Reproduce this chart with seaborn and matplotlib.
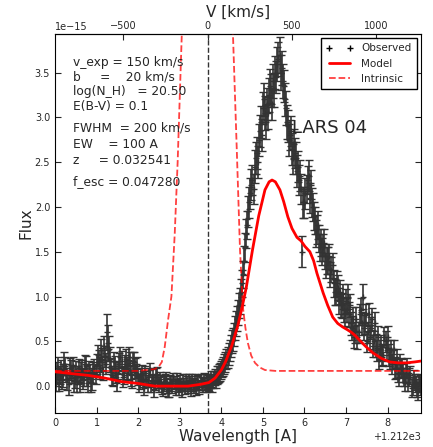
import numpy as np
import matplotlib
matplotlib.use("Agg")
import matplotlib.pyplot as plt
from matplotlib.lines import Line2D
from matplotlib.ticker import ScalarFormatter
import seaborn as sns

sns.set_style("ticks", rc={"xtick.direction": "in", "ytick.direction": "in",
                           "axes.edgecolor": "black", "axes.linewidth": 1.2})
plt.rcParams['font.family'] = ['DejaVu Sans']

# wavelength grid: offset from 1212 A, 0.05 A sampling (second set shifted by half a pixel)
wave0 = 1212.0
step = 0.05

# observed flux (1e-15 units), one block per angstrom
obs_flux = [
    0.10, 0.15, 0.05, 0.18, 0.12, 0.22, 0.08, 0.20, 0.14, 0.06, 0.17, 0.12, 0.05, 0.18, 0.10, 0.22, 0.03, 0.14, 0.08, 0.20,
    0.25, 0.28, 0.40, 0.18, 0.33, 0.60, 0.42, 0.20, 0.10, 0.22, 0.05, 0.25, 0.28, 0.12, 0.30, 0.18, 0.26, 0.08, 0.27, 0.15,
    0.10, 0.05, 0.15, -0.02, 0.08, 0.12, 0.00, 0.10, 0.04, 0.14, 0.02, 0.05, -0.03, 0.06, 0.00, -0.05, 0.03, 0.08, -0.02, 0.01,
    0.05, -0.04, 0.02, 0.06, -0.01, 0.03, 0.07, 0.00, -0.03, 0.04, 0.06, 0.01, 0.03, 0.05, 0.03, 0.08, 0.06, 0.10, 0.12, 0.15,
    0.18, 0.22, 0.27, 0.32, 0.40, 0.50, 0.58, 0.70, 0.82, 0.95, 1.15, 1.40, 1.70, 1.95, 2.15, 2.30, 2.45, 2.60, 2.75, 2.95,
    3.10, 3.05, 3.15, 3.25, 3.30, 3.40, 3.50, 3.60, 3.70, 3.55, 3.35, 3.10, 2.90, 2.80, 2.65, 2.70, 2.55, 2.45, 2.35, 1.50,
    2.05, 2.20, 2.35, 2.25, 2.00, 1.85, 1.75, 1.65, 1.60, 1.55, 1.45, 1.40, 1.45, 1.30, 1.15, 1.05, 1.10, 1.05, 0.90, 0.85,
    0.95, 1.00, 0.90, 0.65, 0.55, 0.75, 0.60, 0.85, 1.00, 0.70, 0.50, 0.80, 0.65, 0.45, 0.70, 0.40, 0.30, 0.45, 0.35, 0.50,
    0.55, 0.30, 0.25, 0.40, 0.20, 0.15, 0.25, 0.20, 0.10, 0.15, 0.05, 0.12, 0.00, 0.05, -0.02, 0.05, 0.00,
]
obs_flux_b = [
    0.05, 0.20, 0.12, 0.08, 0.25, 0.15, 0.02, 0.18, 0.22, 0.10, 0.05, 0.20, 0.15, 0.08, 0.25, 0.12, 0.18, 0.05, 0.15, 0.12,
    0.35, 0.20, 0.30, 0.45, 0.25, 0.48, 0.30, 0.12, 0.28, 0.15, 0.18, 0.32, 0.10, 0.25, 0.20, 0.33, 0.12, 0.28, 0.20, 0.22,
    0.02, 0.12, 0.08, 0.15, 0.03, 0.18, 0.06, -0.03, 0.12, 0.05, 0.08, -0.02, 0.03, 0.09, -0.04, 0.05, 0.00, 0.04, 0.07, -0.03,
    0.02, 0.06, -0.02, 0.03, 0.07, -0.03, 0.02, 0.05, 0.04, -0.01, 0.03, 0.07, 0.00, 0.04, 0.06, 0.02, 0.09, 0.07, 0.13, 0.16,
    0.20, 0.25, 0.30, 0.36, 0.45, 0.52, 0.65, 0.75, 0.90, 1.05, 1.25, 1.55, 1.80, 2.05, 2.25, 2.20, 2.55, 2.50, 2.85, 2.80,
    3.20, 2.95, 3.05, 3.35, 3.15, 3.30, 3.45, 3.65, 3.50, 3.40, 3.20, 2.95, 2.75, 2.85, 2.55, 2.60, 2.40, 2.30, 2.20, 2.05,
    2.15, 2.30, 2.10, 2.05, 1.90, 1.70, 1.80, 1.55, 1.50, 1.60, 1.35, 1.40, 1.25, 1.35, 1.05, 1.15, 0.95, 0.90, 1.00, 0.80,
    0.85, 0.80, 0.70, 0.75, 0.60, 0.55, 0.80, 0.70, 0.65, 0.80, 0.60, 0.55, 0.75, 0.50, 0.45, 0.55, 0.40, 0.35, 0.55, 0.40,
    0.35, 0.40, 0.30, 0.20, 0.30, 0.10, 0.20, 0.15, 0.05, 0.20, 0.10, -0.02, 0.08, 0.02, -0.05, 0.03,
]
obs_err = [
    0.10, 0.12, 0.10, 0.11, 0.13, 0.10, 0.12, 0.11, 0.10, 0.12, 0.11, 0.10, 0.12, 0.11, 0.10, 0.12, 0.10, 0.11, 0.12, 0.10,
    0.11, 0.12, 0.13, 0.11, 0.12, 0.20, 0.14, 0.11, 0.10, 0.12, 0.10, 0.12, 0.11, 0.10, 0.12, 0.11, 0.12, 0.10, 0.11, 0.10,
    0.09, 0.08, 0.09, 0.08, 0.09, 0.08, 0.07, 0.09, 0.08, 0.07, 0.08, 0.07, 0.08, 0.07, 0.08, 0.07, 0.08, 0.07, 0.08, 0.07,
    0.07, 0.08, 0.07, 0.08, 0.07, 0.08, 0.07, 0.08, 0.07, 0.08, 0.07, 0.08, 0.07, 0.08, 0.08, 0.09, 0.08, 0.09, 0.10, 0.10,
    0.10, 0.11, 0.11, 0.12, 0.12, 0.13, 0.13, 0.14, 0.14, 0.15, 0.15, 0.16, 0.16, 0.17, 0.17, 0.17, 0.18, 0.18, 0.18, 0.18,
    0.18, 0.19, 0.18, 0.19, 0.18, 0.19, 0.18, 0.19, 0.20, 0.19, 0.18, 0.19, 0.18, 0.17, 0.18, 0.17, 0.18, 0.17, 0.17, 0.17,
    0.17, 0.16, 0.17, 0.16, 0.16, 0.15, 0.16, 0.15, 0.15, 0.15, 0.14, 0.15, 0.14, 0.14, 0.15, 0.14, 0.14, 0.13, 0.14, 0.13,
    0.13, 0.14, 0.13, 0.13, 0.12, 0.13, 0.12, 0.13, 0.14, 0.12, 0.12, 0.13, 0.12, 0.12, 0.13, 0.12, 0.11, 0.12, 0.11, 0.12,
    0.12, 0.11, 0.11, 0.12, 0.11, 0.10, 0.11, 0.10, 0.10, 0.11, 0.10, 0.10, 0.10, 0.09, 0.10, 0.09, 0.10,
]

# best-fit model
model_wave = [0.0, 0.4, 0.8, 1.2, 1.6, 2.0, 2.4, 2.8, 3.2, 3.5, 3.7, 3.85, 4.0, 4.1, 4.25, 4.4, 4.5,
              4.6, 4.75, 4.9, 5.05, 5.15, 5.22, 5.3, 5.41, 5.5, 5.6, 5.7, 5.82, 5.92, 6.01, 6.13,
              6.22, 6.3, 6.45, 6.56, 6.68, 6.8, 6.92, 7.03, 7.13, 7.23, 7.33, 7.48, 7.65, 7.85, 8.05,
              8.25, 8.46, 8.65, 8.8]
model_flux = [0.16, 0.14, 0.12, 0.09, 0.05, 0.03, 0.0, 0.0, 0.0, 0.02, 0.04, 0.09, 0.18, 0.27, 0.45, 0.68, 0.88,
              1.10, 1.52, 1.90, 2.19, 2.28, 2.30, 2.28, 2.19, 2.06, 1.89, 1.76, 1.66, 1.62, 1.56, 1.50,
              1.40, 1.26, 1.04, 0.90, 0.77, 0.70, 0.66, 0.63, 0.60, 0.56, 0.51, 0.44, 0.37, 0.31, 0.27,
              0.26, 0.26, 0.27, 0.28]

# intrinsic spectrum
intr_wave = [0.0, 1.0, 2.0, 2.4, 2.5, 2.57, 2.64, 2.72, 2.8, 2.88, 2.95, 3.05, 3.2, 3.4, 3.67, 3.9, 4.1,
             4.2, 4.28, 4.37, 4.45, 4.52, 4.58, 4.64, 4.72, 4.81, 4.92, 5.05, 5.3, 6.0, 7.0, 8.0, 8.8]
intr_flux = [0.17, 0.17, 0.17, 0.19, 0.22, 0.27, 0.44, 0.74, 1.0, 1.7, 2.5, 3.93, 7.0, 13.0, 19.8, 15.0, 7.5,
             5.3, 3.93, 2.67, 1.52, 0.88, 0.65, 0.48, 0.34, 0.26, 0.21, 0.18, 0.17, 0.17, 0.17, 0.17, 0.17]

params = ["v_exp = 150 km/s", "b     =    20 km/s", "log(N_H)   = 20.50", "E(B-V) = 0.1",
          "FWHM  = 200 km/s", "EW    = 100 A", "z     = 0.032541", "f_esc = 0.047280"]
param_y = [0.925, 0.886, 0.848, 0.808, 0.752, 0.708, 0.665, 0.612]

lya = 1215.67
c_kms = 299792.458
scale = 1e-15


def lam2v(lam):
    return (lam - lya) / lya * c_kms


def v2lam(v):
    return lya * (1 + v / c_kms)


fig = plt.figure(figsize=(4.33, 4.47), dpi=100)
ax = fig.add_axes([0.127, 0.076, 0.845, 0.848])

dark = "#333333"
x_a = wave0 + np.arange(len(obs_flux)) * step
x_b = wave0 + step / 2 + np.arange(len(obs_flux_b)) * step
for xx, ff, ee in [(x_a, obs_flux, obs_err), (x_b, obs_flux_b, obs_err[:len(obs_flux_b)])]:
    ax.errorbar(xx, np.array(ff) * scale, yerr=np.array(ee) * scale, fmt="+", color=dark,
                ecolor=dark, elinewidth=1.2, capsize=2.6, capthick=1.2, ms=4, mew=1.0, zorder=2)

sns.lineplot(x=wave0 + np.array(model_wave), y=np.array(model_flux) * scale, ax=ax,
             color="red", lw=2, zorder=3)
sns.lineplot(x=wave0 + np.array(intr_wave), y=np.array(intr_flux) * scale, ax=ax,
             color="red", lw=1.3, linestyle="--", alpha=0.75, zorder=3)

ax.axvline(lya, color=dark, ls="--", lw=1.0, zorder=1)

ax.set_xlim(1212.0, 1220.8)
ax.set_ylim(-0.3e-15, 3.93e-15)
ax.xaxis.set_major_formatter(ScalarFormatter(useOffset=1212))
ax.tick_params(axis="both", labelsize=7, direction="in", right=True, top=False,
               length=4)
ax.xaxis.get_offset_text().set_fontsize(7)
ax.yaxis.get_offset_text().set_fontsize(7)
ax.set_xlabel("Wavelength [A]", fontsize=11, labelpad=1)
ax.set_ylabel("Flux", fontsize=11, labelpad=1)

secax = ax.secondary_xaxis("top", functions=(lam2v, v2lam))
secax.set_xticks([-500, 0, 500, 1000])
secax.tick_params(labelsize=7, direction="in", length=4, pad=2)
secax.set_xlabel("V [km/s]", fontsize=11, labelpad=3)

for txt, yy in zip(params, param_y):
    ax.text(0.05, yy, txt, transform=ax.transAxes, fontsize=8.8, va="center", ha="left")
ax.text(0.648, 0.752, "LARS 04", transform=ax.transAxes, fontsize=13, va="center", ha="left")

handles = [
    Line2D([], [], marker="+", ls="none", color="black", ms=5, mew=1),
    Line2D([], [], color="red", lw=2),
    Line2D([], [], color="red", lw=1.3, ls="--", alpha=0.75),
]
leg = ax.legend(handles, ["Observed", "Model", "Intrinsic"], loc="upper right",
                fontsize=7.5, numpoints=2, fancybox=False, framealpha=1,
                edgecolor="black", handlelength=2.6, borderpad=0.5, labelspacing=0.5,
                borderaxespad=0.4)
leg.get_frame().set_linewidth(1.0)

fig.savefig("out.png", dpi=100)
